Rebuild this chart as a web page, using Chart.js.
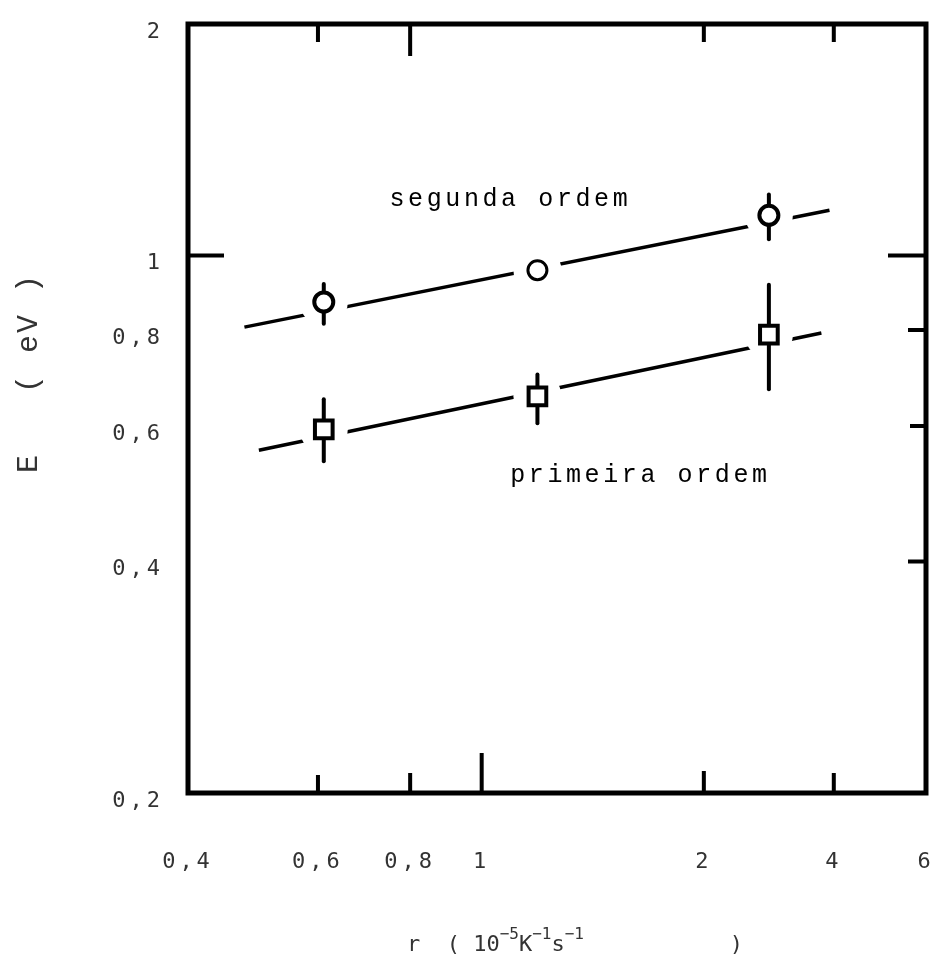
<!DOCTYPE html>
<html>
<head>
<meta charset="utf-8">
<title>E x r</title>
<script src="https://cdn.jsdelivr.net/npm/chart.js@4.4.0/dist/chart.umd.min.js"></script>
<style>
  html, body { margin: 0; padding: 0; background: #fff; }
  canvas { display: block; }
</style>
</head>
<body>
<canvas id="grafico" width="950" height="956"></canvas>
<script>
// Taxa de aquecimento r (10^-5 K^-1 s^-1)
const taxa = [0.611, 1.19, 2.45];

// Energia de ativacao E (eV) - cinetica de segunda ordem
const energiaSegunda = [0.870, 0.957, 1.128];
const erroSegundaMin = [0.815, null, 1.05];
const erroSegundaMax = [0.918, null, 1.20];

// Energia de ativacao E (eV) - cinetica de primeira ordem
const energiaPrimeira = [0.594, 0.656, 0.789];
const erroPrimeiraMin = [0.540, 0.605, 0.670];
const erroPrimeiraMax = [0.650, 0.700, 0.916];

// Retas ajustadas (extremos)
const retaSegundaX = [0.477, 2.96];
const retaSegundaY = [0.807, 1.145];
const retaPrimeiraX = [0.499, 2.886];
const retaPrimeiraY = [0.558, 0.793];

// Marcas dos eixos
const xTicks = [0.4, 0.6, 0.8, 1, 2, 3, 4];
const xTickLabels = ['0,4', '0,6', '0,8', '1', '2', '4', '6'];
const yTicks = [0.2, 0.4, 0.6, 0.8, 1, 2];
const yTickLabels = ['0,2', '0,4', '0,6', '0,8', '1', '2'];

// Rotulos das retas (canto esquerdo, linha de base)
const rotulos = ['segunda ordem', 'primeira ordem'];
const rotulosX = [0.75, 1.093];
const rotulosY = [1.159, 0.507];

// Tracos internos da moldura: [valor, comprimento em px]
const marcasMoldura = {
  bottom: [[0.6, 18], [0.8, 20], [1, 40], [2, 22], [3, 20]],
  top: [[0.6, 18], [0.8, 32], [2, 18], [3, 18]],
  left: [[1, 36]],
  right: [[1, 38], [0.8, 18], [0.6, 16], [0.4, 18]]
};

const FONTE_MONO = '"DejaVu Sans Mono", monospace';
const FONTE_MAQ = '"Liberation Mono", monospace';

const pontos = (xs, ys) => xs.map((x, i) => ({ x: x, y: ys[i] }));

// a area do grafico fica presa ao padding do layout
function semFolga(s) {
  s.paddingLeft = 0;
  s.paddingRight = 0;
  s.paddingTop = 0;
  s.paddingBottom = 0;
}

// espacamento de letras para os rotulos dos eixos
const espacamento = {
  id: 'espacamento',
  beforeDraw(chart) { chart.ctx.letterSpacing = '4px'; },
  afterDraw(chart) { chart.ctx.letterSpacing = '0px'; }
};

// barras de erro verticais, desenhadas antes dos simbolos
const barrasErro = {
  id: 'barrasErro',
  beforeDatasetDraw(chart, args) {
    const ds = chart.data.datasets[args.index];
    if (!ds.erroMin) return;
    const { ctx, scales: { x, y } } = chart;
    ctx.save();
    ctx.strokeStyle = '#000';
    ctx.lineWidth = 4;
    ctx.lineCap = 'round';
    ds.data.forEach((p, i) => {
      if (ds.erroMin[i] == null) return;
      const px = x.getPixelForValue(p.x);
      ctx.beginPath();
      ctx.moveTo(px, y.getPixelForValue(ds.erroMin[i]));
      ctx.lineTo(px, y.getPixelForValue(ds.erroMax[i]));
      ctx.stroke();
    });
    ctx.restore();
  }
};

// moldura em volta da area do grafico com tracos para dentro
const moldura = {
  id: 'moldura',
  afterDatasetsDraw(chart) {
    const { ctx, chartArea: a, scales: { x, y } } = chart;
    ctx.save();
    ctx.strokeStyle = '#000';
    ctx.lineWidth = 5;
    ctx.lineJoin = 'miter';
    ctx.strokeRect(a.left, a.top, a.right - a.left, a.bottom - a.top);
    ctx.lineWidth = 4;
    ctx.beginPath();
    marcasMoldura.bottom.forEach(([v, len]) => {
      const px = x.getPixelForValue(v);
      ctx.moveTo(px, a.bottom);
      ctx.lineTo(px, a.bottom - len);
    });
    marcasMoldura.top.forEach(([v, len]) => {
      const px = x.getPixelForValue(v);
      ctx.moveTo(px, a.top);
      ctx.lineTo(px, a.top + len);
    });
    marcasMoldura.left.forEach(([v, len]) => {
      const py = y.getPixelForValue(v);
      ctx.moveTo(a.left, py);
      ctx.lineTo(a.left + len, py);
    });
    marcasMoldura.right.forEach(([v, len]) => {
      const py = y.getPixelForValue(v);
      ctx.moveTo(a.right, py);
      ctx.lineTo(a.right - len, py);
    });
    ctx.stroke();
    ctx.restore();
  }
};

// titulos dos eixos e rotulos das retas
const textos = {
  id: 'textos',
  afterDraw(chart) {
    const { ctx, chartArea: a, scales: { x, y } } = chart;
    ctx.save();
    ctx.textAlign = 'left';
    ctx.textBaseline = 'alphabetic';

    // rotulos das retas
    ctx.fillStyle = '#000';
    ctx.font = '25px ' + FONTE_MAQ;
    ctx.letterSpacing = '3.6px';
    rotulos.forEach((t, i) => {
      ctx.fillText(t, x.getPixelForValue(rotulosX[i]), y.getPixelForValue(rotulosY[i]));
    });

    // titulo do eixo x com expoentes
    ctx.fillStyle = '#333';
    ctx.letterSpacing = '0px';
    const partes = [
      { t: 'r  ( 10' }, { t: '\u22125', sup: true }, { t: 'K' },
      { t: '\u22121', sup: true }, { t: 's' }, { t: '\u22121', sup: true },
      { t: '           )' }
    ];
    let px = a.left + 219;
    const base = a.bottom + 158;
    partes.forEach(p => {
      ctx.font = (p.sup ? '16px ' : '22px ') + FONTE_MONO;
      ctx.fillText(p.t, px, p.sup ? base - 12 : base);
      px += ctx.measureText(p.t).width;
    });

    // titulo do eixo y, girado
    ctx.font = '30px ' + FONTE_MAQ;
    ctx.letterSpacing = '2px';
    ctx.translate(a.left - 151, a.top + 449);
    ctx.rotate(-Math.PI / 2);
    ctx.fillText('E   ( eV )', 0, 0);
    ctx.restore();
  }
};

new Chart(document.getElementById('grafico'), {
  type: 'scatter',
  data: {
    datasets: [
      {
        label: 'segunda ordem',
        data: pontos(taxa, energiaSegunda),
        erroMin: erroSegundaMin,
        erroMax: erroSegundaMax,
        pointStyle: 'circle',
        pointRadius: 9.5,
        pointBorderWidth: [4, 3, 4],
        pointBackgroundColor: '#fff',
        pointBorderColor: '#000',
        order: 0
      },
      {
        label: 'primeira ordem',
        data: pontos(taxa, energiaPrimeira),
        erroMin: erroPrimeiraMin,
        erroMax: erroPrimeiraMax,
        pointStyle: 'rect',
        pointRadius: 12.5,
        pointBorderWidth: 4,
        pointBackgroundColor: '#fff',
        pointBorderColor: '#000',
        order: 0
      },
      {
        // interrompe as retas em volta dos simbolos
        label: 'fundo',
        data: pontos(taxa, energiaSegunda).concat(pontos(taxa, energiaPrimeira)),
        pointStyle: 'circle',
        pointRadius: 24,
        pointBorderWidth: 0,
        pointBackgroundColor: '#fff',
        order: 1
      },
      {
        label: 'reta segunda ordem',
        data: pontos(retaSegundaX, retaSegundaY),
        showLine: true,
        borderColor: '#000',
        borderWidth: 3.5,
        pointRadius: 0,
        order: 2
      },
      {
        label: 'reta primeira ordem',
        data: pontos(retaPrimeiraX, retaPrimeiraY),
        showLine: true,
        borderColor: '#000',
        borderWidth: 3.5,
        pointRadius: 0,
        order: 2
      }
    ]
  },
  options: {
    responsive: false,
    animation: false,
    events: [],
    layout: { padding: { top: 21, right: 7, left: 0, bottom: 0 } },
    plugins: {
      legend: { display: false },
      tooltip: { enabled: false }
    },
    scales: {
      x: {
        type: 'logarithmic',
        min: 0.4,
        max: 4,
        grid: { display: false, drawTicks: false },
        border: { display: false },
        afterBuildTicks: s => { s.ticks = xTicks.map(v => ({ value: v })); },
        afterFit: s => { s.height = 163; semFolga(s); },
        ticks: {
          autoSkip: false,
          maxRotation: 0,
          padding: 56,
          color: '#333',
          font: { family: FONTE_MONO, size: 22 },
          callback: (v, i) => xTickLabels[i]
        }
      },
      y: {
        type: 'logarithmic',
        min: 0.2,
        max: 2,
        grid: { display: false, drawTicks: false },
        border: { display: false },
        afterBuildTicks: s => { s.ticks = yTicks.map(v => ({ value: v })); },
        afterFit: s => { s.width = 188; semFolga(s); },
        ticks: {
          autoSkip: false,
          padding: 24,
          labelOffset: 8,
          color: '#333',
          font: { family: FONTE_MONO, size: 22 },
          callback: (v, i) => yTickLabels[i]
        }
      }
    }
  },
  plugins: [espacamento, barrasErro, moldura, textos]
});
</script>
</body>
</html>
